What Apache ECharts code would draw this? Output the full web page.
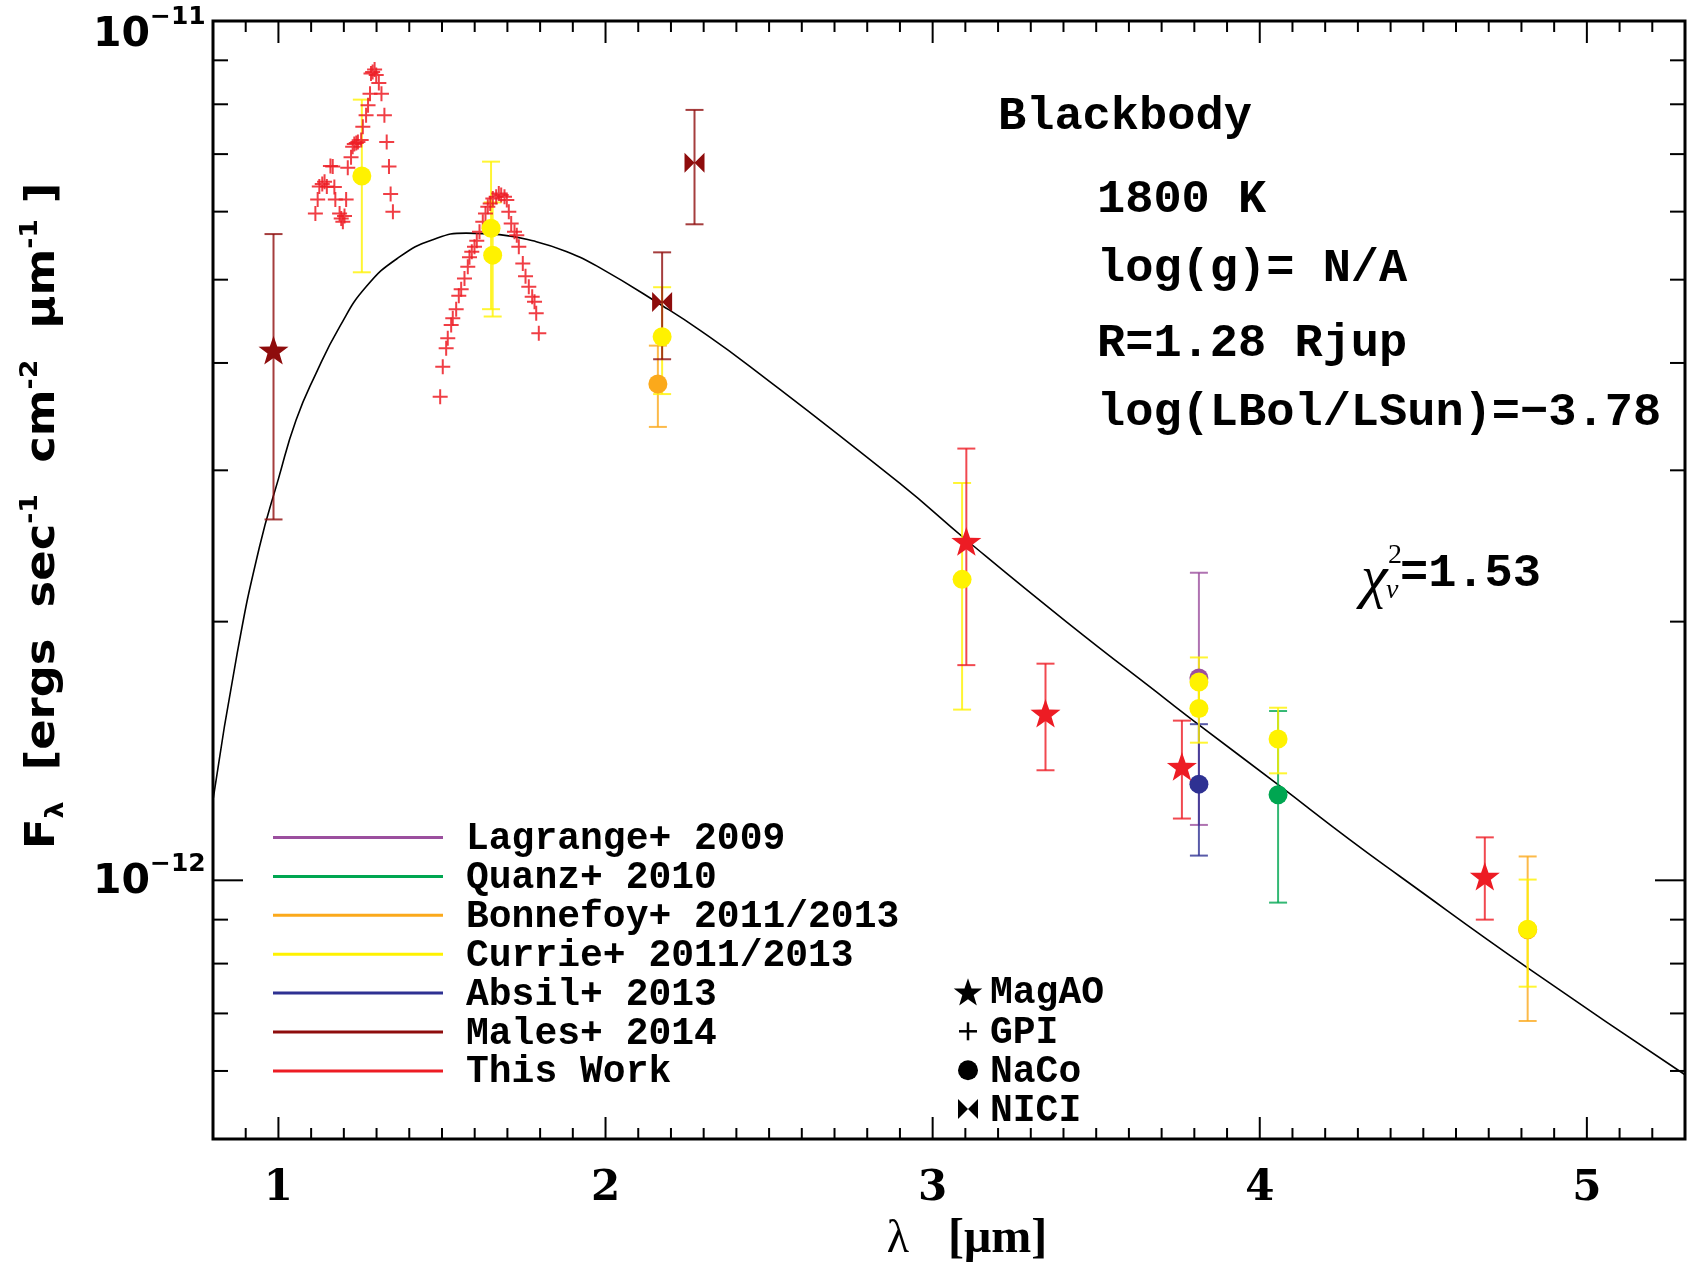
<!DOCTYPE html>
<html><head><meta charset="utf-8">
<script src="https://cdn.jsdelivr.net/npm/echarts@6/dist/echarts.min.js"></script>
<style>html,body{margin:0;padding:0;background:#fff}#c{width:1694px;height:1262px}</style>
</head><body><div id="c"></div>
<script>
// ---------------- data ----------------
const blackbody = [[0.800,1.240e-12],[0.874,1.838e-12],[0.942,2.443e-12],[1.000,2.932e-12],[1.054,3.433e-12],[1.115,3.890e-12],[1.187,4.406e-12],[1.268,4.905e-12],[1.370,5.314e-12],[1.472,5.565e-12],[1.574,5.665e-12],[1.676,5.641e-12],[1.778,5.549e-12],[1.880,5.393e-12],[1.982,5.164e-12],[2.175,4.660e-12],[2.288,4.368e-12],[2.440,3.967e-12],[2.899,2.898e-12],[3.103,2.489e-12],[3.409,1.999e-12],[3.715,1.622e-12],[3.814,1.517e-12],[4.056,1.292e-12],[4.275,1.115e-12],[4.428,1.011e-12],[4.819,0.791e-12],[5.300,0.594e-12]];

const gpiJ = [[1.113,5.97e-12],[1.120,6.20e-12],[1.125,6.42e-12],[1.134,6.46e-12],[1.141,6.50e-12],[1.148,6.42e-12],[1.159,6.78e-12],[1.166,6.77e-12],[1.171,6.41e-12],[1.174,6.20e-12],[1.187,5.97e-12],[1.192,5.89e-12],[1.197,5.84e-12],[1.202,5.93e-12],[1.207,6.20e-12],[1.212,6.75e-12],[1.222,6.94e-12],[1.227,7.14e-12],[1.232,7.19e-12],[1.238,7.21e-12],[1.243,7.23e-12],[1.253,7.27e-12],[1.258,7.53e-12],[1.268,7.77e-12],[1.274,7.98e-12],[1.280,8.23e-12],[1.283,8.69e-12],[1.288,8.72e-12],[1.294,8.78e-12],[1.299,8.65e-12],[1.307,8.47e-12],[1.315,8.23e-12],[1.324,7.77e-12],[1.331,7.23e-12],[1.338,6.77e-12],[1.343,6.29e-12],[1.350,6.00e-12]];

const gpiH = [[1.4945,3.654e-12],[1.5024,3.960e-12],[1.5128,4.160e-12],[1.5177,4.273e-12],[1.5281,4.428e-12],[1.5330,4.508e-12],[1.5434,4.618e-12],[1.5514,4.789e-12],[1.5587,4.872e-12],[1.5688,5.017e-12],[1.5789,5.176e-12],[1.5841,5.308e-12],[1.5911,5.388e-12],[1.5994,5.461e-12],[1.6064,5.549e-12],[1.6147,5.685e-12],[1.6248,5.838e-12],[1.6330,5.971e-12],[1.6401,6.078e-12],[1.6474,6.134e-12],[1.6554,6.216e-12],[1.6657,6.243e-12],[1.6737,6.300e-12],[1.6810,6.272e-12],[1.6911,6.243e-12],[1.6982,6.188e-12],[1.7043,5.997e-12],[1.7116,5.813e-12],[1.7217,5.685e-12],[1.7287,5.634e-12],[1.7349,5.461e-12],[1.7471,5.223e-12],[1.7554,5.047e-12],[1.7654,4.905e-12],[1.7758,4.775e-12],[1.7829,4.712e-12],[1.7881,4.569e-12],[1.7960,4.330e-12]];

// [wavelength (um), flux, 1-sigma error, instrument]
const lagrange = [[3.814,1.72e-12,0.56e-12,'NaCo']];
const quanz    = [[4.056,1.258e-12,0.316e-12,'NaCo']];
const bonnefoy = [[2.160,3.78e-12,0.41e-12,'NaCo'],[4.819,0.876e-12,0.190e-12,'NaCo']];
const currie   = [[1.255,6.60e-12,1.50e-12,'NaCo'],[1.650,5.74e-12,1.12e-12,'NaCo'],[1.655,5.34e-12,0.81e-12,'NaCo'],[2.173,4.29e-12,0.61e-12,'NaCo'],[3.090,2.24e-12,0.66e-12,'NaCo'],[3.814,1.701e-12,0.116e-12,'NaCo'],[3.814,1.585e-12,0.139e-12,'NaCo'],[4.056,1.46e-12,0.128e-12,'NaCo'],[4.819,0.877e-12,0.125e-12,'NaCo']];
const absil    = [[3.814,1.294e-12,0.2255e-12,'NaCo']];
const males    = [[0.985,4.14e-12,1.51e-12,'MagAO'],[2.173,4.71e-12,0.67e-12,'NICI'],[2.272,6.84e-12,1.04e-12,'NICI']];
const thisWork = [[3.103,2.48e-12,0.70e-12,'MagAO'],[3.345,1.565e-12,0.222e-12,'MagAO'],[3.762,1.357e-12,0.177e-12,'MagAO'],[4.688,1.011e-12,0.111e-12,'MagAO']];

const legendNames = ['Lagrange+ 2009','Quanz+ 2010','Bonnefoy+ 2011/2013','Currie+ 2011/2013','Absil+ 2013','Males+ 2014','This Work'];
const instNames = ['MagAO','GPI','NaCo','NICI'];
const infoLines = ['Blackbody','1800 K','log(g)= N/A','R=1.28 Rjup','log(LBol/LSun)=\u22123.78'];
const chiText = '=1.53';

const xTickLabels = ['1','2','3','4','5'];
const xMajorTicks = [1,2,3,4,5];
const yMajorTicks = [1e-12,1e-11];
const yTickExp = ['\u221212','\u221211'];
const yMinorTicks = [6e-13,7e-13,8e-13,9e-13,2e-12,3e-12,4e-12,5e-12,6e-12,7e-12,8e-12,9e-12];

// ---------------- styles ----------------
const X_MIN = 0.8, X_MAX = 5.3, Y_MIN = 5e-13, Y_MAX = 1e-11;
const COLORS = {lagrange:'#9B4F9E', quanz:'#00A651', bonnefoy:'#FBA91B', currie:'#FFF200', absil:'#2E3192', males:'#8E0C0C', thisWork:'#ED1C24'};
const legendColors = [COLORS.lagrange, COLORS.quanz, COLORS.bonnefoy, COLORS.currie, COLORS.absil, COLORS.males, COLORS.thisWork];
const STAR_PTS = [[50,0],[61.76,33.82],[97.55,34.55],[69.02,56.18],[79.39,90.45],[50,70],[20.61,90.45],[30.98,56.18],[2.45,34.55],[38.24,33.82]];
const STAR = 'M' + STAR_PTS.map(p => p[0] + ',' + p[1]).join(' L') + ' Z';
const BOW = 'M0,0 L10,10 L0,20 Z M20,0 L10,10 L20,20 Z';
const PLUS = 'M6.5,0 H8.5 V6.5 H15 V8.5 H8.5 V15 H6.5 V8.5 H0 V6.5 H6.5 Z';
const SYM = {MagAO:'path://'+STAR, NICI:'path://'+BOW, NaCo:'circle', GPI:'path://'+PLUS};
const SIZE = {MagAO:30, NICI:20, NaCo:19, GPI:15};
const MONO = '"Liberation Mono", "Courier New", monospace';

// minor x ticks every 0.1
const xMinorTicks = [];
for (let i = 9; i <= 52; i++) { if (i % 10 !== 0) xMinorTicks.push(i / 10); }

const chart = echarts.init(document.getElementById('c'), null, {renderer:'canvas'});

function errSeries(data, color) {
  return {
    type:'custom', coordinateSystem:'cartesian2d', data: data, encode:{x:0, y:1}, silent:true, z:3,
    renderItem: function (params, api) {
      const x = api.value(0), y = api.value(1), e = api.value(2);
      const hi = api.coord([x, y + e]), lo = api.coord([x, y - e]);
      const st = {stroke: color, lineWidth: 2, opacity: 0.8};
      return {type:'group', children:[
        {type:'line', shape:{x1:hi[0], y1:hi[1], x2:lo[0], y2:lo[1]}, style:st},
        {type:'line', shape:{x1:hi[0]-9, y1:hi[1], x2:hi[0]+9, y2:hi[1]}, style:st},
        {type:'line', shape:{x1:lo[0]-9, y1:lo[1], x2:lo[0]+9, y2:lo[1]}, style:st}
      ]};
    }
  };
}
function markSeries(data, color) {
  return {
    type:'scatter', data: data, z:4, silent:true,
    symbol: function (v) { return SYM[v[3]]; },
    symbolSize: function (v) { return SIZE[v[3]]; },
    symbolKeepAspect: true,
    itemStyle: {color: color, opacity: 1}
  };
}

const tickStyle = {stroke:'#000', lineWidth:2};
const xTickSeries = {
  type:'custom', coordinateSystem:'cartesian2d', silent:true, z:6,
  data: xMajorTicks.map((v,i)=>[v, Y_MIN, 1, i]).concat(xMinorTicks.map(v=>[v, Y_MIN, 0, -1])),
  encode:{x:0, y:1},
  renderItem: function (params, api) {
    const v = api.value(0), major = api.value(2), li = api.value(3);
    const b = api.coord([v, Y_MIN]), t = api.coord([v, Y_MAX]);
    const L = major ? 22 : 11;
    const ch = [
      {type:'line', shape:{x1:b[0], y1:b[1], x2:b[0], y2:b[1]-L}, style:tickStyle},
      {type:'line', shape:{x1:t[0], y1:t[1], x2:t[0], y2:t[1]+L}, style:tickStyle}
    ];
    if (major) ch.push({type:'text', x:b[0], y:b[1]+50, style:{text:xTickLabels[li], fill:'#000', font:'bold 42px "DejaVu Serif"', align:'center', verticalAlign:'middle'}});
    return {type:'group', children:ch};
  }
};
const yTickSeries = {
  type:'custom', coordinateSystem:'cartesian2d', silent:true, z:6,
  data: yMajorTicks.map((v,i)=>[X_MIN, v, 1, i]).concat(yMinorTicks.map(v=>[X_MIN, v, 0, -1])),
  encode:{x:0, y:1},
  renderItem: function (params, api) {
    const v = api.value(1), major = api.value(2), li = api.value(3);
    const l = api.coord([X_MIN, v]), r = api.coord([X_MAX, v]);
    const top = api.coord([X_MIN, Y_MAX])[1];
    const L = major ? 30 : 15;
    const ch = [
      {type:'line', shape:{x1:l[0], y1:l[1], x2:l[0]+L, y2:l[1]}, style:tickStyle},
      {type:'line', shape:{x1:r[0], y1:r[1], x2:r[0]-L, y2:r[1]}, style:tickStyle}
    ];
    if (major) {
      const yc = Math.max(l[1] + 2, top + 14);
      ch.push({type:'text', x:l[0]-63, y:yc, style:{text:'10', fill:'#000', font:'bold 41px "DejaVu Sans"', align:'right', verticalAlign:'middle'}});
      ch.push({type:'text', x:l[0]-63, y:yc-18, style:{text:yTickExp[li], fill:'#000', font:'bold 25px "DejaVu Sans"', align:'left', verticalAlign:'middle'}});
    }
    return {type:'group', children:ch};
  }
};

// ---------------- graphic (legend, annotations, axis titles) ----------------
const graphics = [];
const legTop = 839.5, legStep = 38.9;
legendNames.forEach((n, i) => {
  const y = legTop + i * legStep;
  graphics.push({type:'line', shape:{x1:273, y1:y - 2, x2:443, y2:y - 2}, style:{stroke:legendColors[i], lineWidth:3}});
  graphics.push({type:'text', x:466, y:y, style:{text:n, fill:'#000', font:'bold 38px ' + MONO, align:'left', verticalAlign:'middle'}});
});
const instY = [993.8, 1033.3, 1072.2, 1111.0];
instNames.forEach((n, i) => {
  const y = instY[i], cx = 968;
  if (n === 'MagAO') graphics.push({type:'polygon', shape:{points: STAR_PTS.map(p => [cx + (p[0]-50)*0.3, y - 2 + (p[1]-45.2)*0.3])}, style:{fill:'#000'}});
  if (n === 'GPI') { graphics.push({type:'rect', shape:{x:cx-9, y:y-3.25, width:18, height:2.5}, style:{fill:'#000'}}); graphics.push({type:'rect', shape:{x:cx-1.25, y:y-11, width:2.5, height:18}, style:{fill:'#000'}}); }
  if (n === 'NaCo') graphics.push({type:'circle', shape:{cx:cx, cy:y-2, r:10}, style:{fill:'#000'}});
  if (n === 'NICI') {
    graphics.push({type:'polygon', shape:{points:[[cx-10,y-12],[cx,y-2],[cx-10,y+8]]}, style:{fill:'#000'}});
    graphics.push({type:'polygon', shape:{points:[[cx+10,y-12],[cx,y-2],[cx+10,y+8]]}, style:{fill:'#000'}});
  }
  graphics.push({type:'text', x:990, y:y, style:{text:n, fill:'#000', font:'bold 38px ' + MONO, align:'left', verticalAlign:'middle'}});
});
const infoX = [998, 1097, 1097, 1097, 1097];
const infoY = [117, 200, 269, 344, 413];
infoLines.forEach((t, i) => {
  graphics.push({type:'text', x:infoX[i], y:infoY[i], style:{text:t, fill:'#000', font:'bold 47px ' + MONO, align:'left', verticalAlign:'middle'}});
});
graphics.push({type:'text', x:1361, y:580, style:{text:'\u03c7', fill:'#000', font:'italic 60px "Liberation Serif"', align:'left', verticalAlign:'middle'}});
graphics.push({type:'text', x:1388, y:556, style:{text:'2', fill:'#000', font:'28px "Liberation Serif"', align:'left', verticalAlign:'middle'}});
graphics.push({type:'text', x:1386, y:591, style:{text:'\u03bd', fill:'#000', font:'italic 28px "Liberation Serif"', align:'left', verticalAlign:'middle'}});
graphics.push({type:'text', x:1400, y:574, style:{text:chiText, fill:'#000', font:'bold 47px ' + MONO, align:'left', verticalAlign:'middle'}});
// x-axis title
graphics.push({type:'text', x:898, y:1240, style:{text:'\u03bb', fill:'#000', font:'46px "Liberation Serif"', align:'center', verticalAlign:'middle'}});
graphics.push({type:'text', x:948, y:1240, style:{text:'[\u03bcm]', fill:'#000', font:'bold 48px "Liberation Serif"', align:'left', verticalAlign:'middle'}});
// y-axis title (rotated)
graphics.push({type:'text', x:44, y:516, rotation:Math.PI/2, scaleX:1.12, style:{
  text:'{m|F}{sub|\u03bb}{m|  [ergs  sec}{sup|-1}{m|  cm}{sup|-2}{m|  \u03bcm}{sup|-1}{m| ]}',
  align:'center', verticalAlign:'middle', fill:'#000',
  rich:{
    m:{font:'bold 40px "DejaVu Sans"', fill:'#000', lineHeight:50},
    sub:{font:'bold 24px "DejaVu Sans"', fill:'#000', verticalAlign:'bottom', lineHeight:24},
    sup:{font:'bold 24px "DejaVu Sans"', fill:'#000', verticalAlign:'top', lineHeight:24}
  }
}});

const option = {
  animation:false,
  backgroundColor:'#fff',
  grid:{left:213, top:21, right:9, bottom:123, show:true, borderColor:'#000', borderWidth:3, backgroundColor:'transparent'},
  xAxis:{type:'value', min:X_MIN, max:X_MAX, axisLine:{show:false}, axisTick:{show:false}, axisLabel:{show:false}, splitLine:{show:false}},
  yAxis:{type:'log', logBase:10, min:Y_MIN, max:Y_MAX, axisLine:{show:false}, axisTick:{show:false}, axisLabel:{show:false}, splitLine:{show:false}, minorTick:{show:false}},
  graphic: graphics,
  series:[
    {type:'line', data:blackbody, showSymbol:false, smooth:0.5, lineStyle:{color:'#000', width:1.6}, z:2, silent:true},
    {type:'scatter', data:gpiJ.concat(gpiH), symbol:SYM.GPI, symbolSize:SIZE.GPI, itemStyle:{color:COLORS.thisWork, opacity:0.85}, z:3, silent:true},
    errSeries(bonnefoy, COLORS.bonnefoy), markSeries(bonnefoy, COLORS.bonnefoy),
    errSeries(lagrange, COLORS.lagrange), markSeries(lagrange, COLORS.lagrange),
    errSeries(quanz, COLORS.quanz), markSeries(quanz, COLORS.quanz),
    errSeries(absil, COLORS.absil), markSeries(absil, COLORS.absil),
    errSeries(currie, COLORS.currie), markSeries(currie, COLORS.currie),
    errSeries(males, COLORS.males), markSeries(males, COLORS.males),
    errSeries(thisWork, COLORS.thisWork), markSeries(thisWork, COLORS.thisWork),
    xTickSeries, yTickSeries
  ]
};
chart.setOption(option);
</script></body></html>
